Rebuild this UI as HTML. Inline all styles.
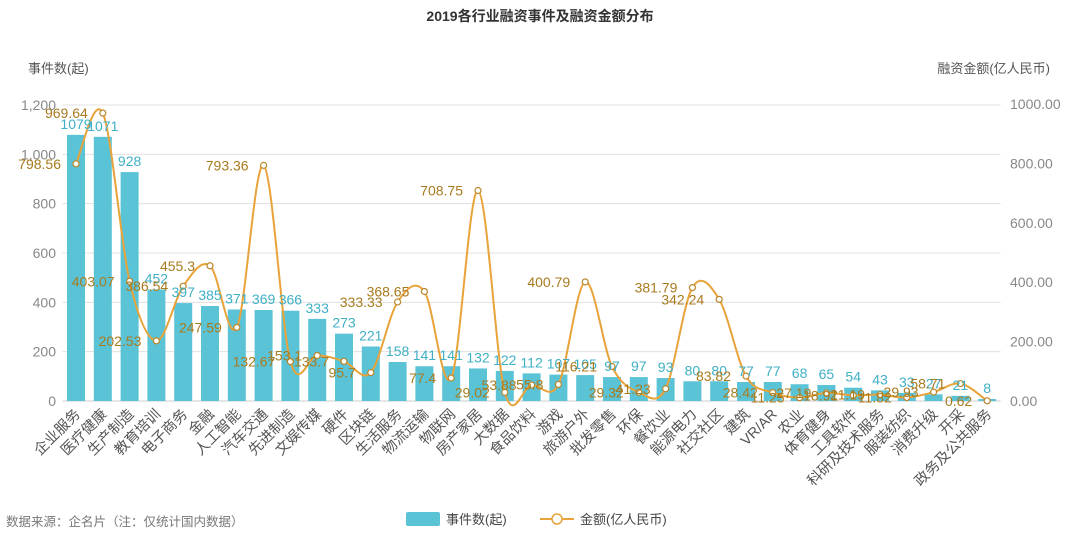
<!DOCTYPE html>
<html><head><meta charset="utf-8">
<style>
body{margin:0;background:#fff;}
svg{display:block;font-family:"Liberation Sans","Noto Sans CJK SC",sans-serif;}
</style></head>
<body>
<svg id="chart" width="1080" height="552">
<text x="540" y="21" text-anchor="middle" font-size="14" font-weight="bold" fill="#333">2019各行业融资事件及融资金额分布</text>
<text x="28" y="73" font-size="13" fill="#555">事件数(起)</text>
<text x="1050" y="73" text-anchor="end" font-size="13" fill="#555">融资金额(亿人民币)</text>
<g id="grid"></g><g id="bars"></g><g id="line"></g><g id="labels"></g><g id="xlabels"></g>
<text x="6" y="526" font-size="12.5" fill="#777">数据来源：企名片（注：仅统计国内数据）</text>
<g>
<rect x="406" y="512" width="34" height="14" rx="2" fill="#5bc3d6"/>
<text x="446" y="524" font-size="13" fill="#444">事件数(起)</text>
<line x1="540" y1="519" x2="574" y2="519" stroke="#e8a33a" stroke-width="2"/>
<circle cx="557" cy="519" r="5" fill="#fff" stroke="#e8a33a" stroke-width="1.5"/>
<text x="580" y="524" font-size="13" fill="#444">金额(亿人民币)</text>
</g>
</svg>
<script>
const categories=["企业服务","医疗健康","生产制造","教育培训","电子商务","金融","人工智能","汽车交通","先进制造","文娱传媒","硬件","区块链","生活服务","物流运输","物联网","房产家居","大数据","食品饮料","游戏","旅游户外","批发零售","环保","餐饮业","能源电力","社交社区","建筑","VR/AR","农业","体育健身","工具软件","科研及技术服务","服装纺织","消费升级","开采","政务及公共服务"];
const eventCounts=[1079,1071,928,452,397,385,371,369,366,333,273,221,158,141,141,132,122,112,107,105,97,97,93,80,80,77,77,68,65,54,43,33,27,21,8];
const amounts=[798.56,969.64,403.07,202.53,386.54,455.3,247.59,793.36,132.67,153.1,133.7,95.7,333.33,368.65,77.4,708.75,29.02,53.88,55.8,400.79,116.21,29.32,41.23,381.79,342.24,83.82,28.42,11.25,27.19,18.91,21.19,11.82,29.93,58.71,0.62];
const leftTicks=[0,200,400,600,800,1000,1200];
const rightTicks=[0,200,400,600,800,1000];
const leftTickLabels=["0","200","400","600","800","1,000","1,200"];
const rightTickLabels=["0.00","200.00","400.00","600.00","800.00","1000.00"];

const NS="http://www.w3.org/2000/svg";
const X0=62.6,X1=1000.6,Y0=401,YT=105;
const step=(X1-X0)/categories.length;
const xc=i=>X0+step*(i+0.5);
const yL=v=>Y0-(v/1200)*(Y0-YT);
const yR=v=>Y0-(v/1000)*(Y0-104);
function mk(tag,attrs,parent,txt){const e=document.createElementNS(NS,tag);for(const k in attrs)e.setAttribute(k,attrs[k]);if(txt!==undefined)e.textContent=txt;parent.appendChild(e);return e;}
const grid=document.getElementById('grid'),bars=document.getElementById('bars'),line=document.getElementById('line'),labels=document.getElementById('labels'),xl=document.getElementById('xlabels');
leftTicks.forEach((t,i)=>{
  const l=mk('line',{x1:X0,x2:X1,y1:yL(t),y2:yL(t),stroke:i==0?'#ccc':'#e0e0e0','stroke-width':1},grid);
  
  
  const tx=mk('text',{x:56,y:yL(t)+5,'text-anchor':'end','font-size':14,fill:'#888'},grid,leftTickLabels[i]);
  
  
});
rightTicks.forEach((t,i)=>{
  const tx=mk('text',{x:1010,y:yR(t)+5,'font-size':14,fill:'#888'},grid,rightTickLabels[i]);
  
  
});
const bw=18;
eventCounts.forEach((v,i)=>{
  const r=mk('rect',{x:xc(i)-bw/2,y:yL(v),width:bw,height:Y0-yL(v),fill:'#5bc3d6'},bars);
  
  
  const t=mk('text',{x:xc(i),y:yL(v)-6,'text-anchor':'middle','font-size':14,fill:'#3fb0c6'},labels,String(v));
  
  
  const c=mk('text',{'text-anchor':'end','font-size':14.5,fill:'#555',transform:`translate(${xc(i)+5},${Y0+14}) rotate(-45)`},xl,categories[i]);
  
  
});
const pts=amounts.map((v,i)=>[xc(i),yR(v)]);
let d=`M${pts[0][0]},${pts[0][1]}`;const k=1/6;
for(let i=0;i<pts.length-1;i++){
  const p0=pts[i-1]||pts[i],p1=pts[i],p2=pts[i+1],p3=pts[i+2]||p2;
  const c1=[p1[0]+(p2[0]-p0[0])*k,p1[1]+(p2[1]-p0[1])*k];
  const c2=[p2[0]-(p3[0]-p1[0])*k,p2[1]-(p3[1]-p1[1])*k];
  d+=` C${c1[0]},${c1[1]} ${c2[0]},${c2[1]} ${p2[0]},${p2[1]}`;
}
const path=mk('path',{d:d,fill:'none',stroke:'#e8a33a','stroke-width':2},line);


pts.forEach((p,i)=>{
  const c=mk('circle',{cx:p[0],cy:p[1],r:3,fill:'#fff',stroke:'#b8862a','stroke-width':1.2},line);
  
  
  const t=mk('text',{x:p[0]-15,y:p[1]+5,'text-anchor':'end','font-size':14,fill:'#a87a1e'},labels,String(amounts[i]));
  
  
});
</script>
</body></html>
